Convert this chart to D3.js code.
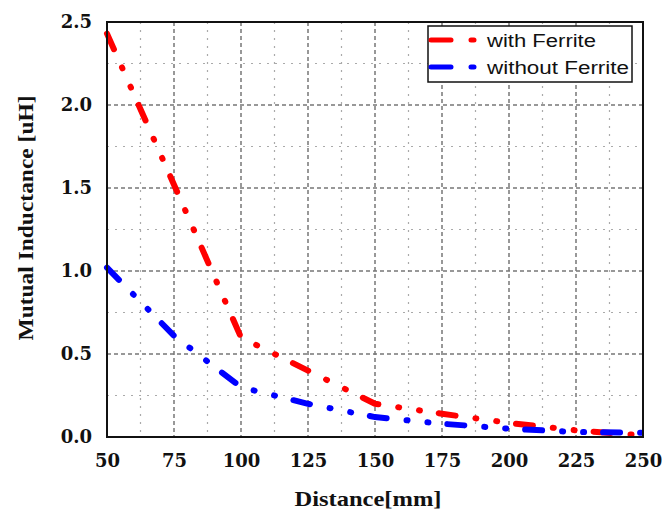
<!DOCTYPE html>
<html>
<head>
<meta charset="utf-8">
<script src="https://cdn.jsdelivr.net/npm/d3@7"></script>
<style>
  body { margin: 0; background: #fff; }
  svg { display: block; }
</style>
</head>
<body>
<script>
// distances in mm and mutual inductance in uH
var distance = [50, 75, 100, 125, 150, 175, 200, 225, 250];
var withFerrite = [2.43, 1.52, 0.6, 0.4, 0.2, 0.14, 0.085, 0.04, 0.01];
var withoutFerrite = [1.02, 0.61, 0.3, 0.2, 0.12, 0.08, 0.05, 0.03, 0.025];
var xTicks = [50, 75, 100, 125, 150, 175, 200, 225, 250];
var yTicks = [0, 0.5, 1.0, 1.5, 2.0, 2.5];
var seriesNames = ['with Ferrite', 'without Ferrite'];
var seriesColors = ['#ff0000', '#0000ff'];

const W = 662, H = 518;
const plotLeft = 107, plotRight = 643, plotTop = 22, plotBottom = 437;

const svg = d3.select('body').append('svg')
    .attr('width', W)
    .attr('height', H);

var x = d3.scaleLinear().domain([50, 250]).range([plotLeft, plotRight]);
var y = d3.scaleLinear().domain([0, 2.5]).range([plotBottom, plotTop]);

// minor grid (dotted)
var xMinor = d3.range(62.5, 250, 25);
var yMinor = d3.range(0.25, 2.5, 0.5);
svg.append('g').selectAll('line')
    .data(xMinor)
    .enter().append('line')
    .attr('x1', d => x(d)).attr('x2', d => x(d))
    .attr('y1', plotTop).attr('y2', plotBottom)
    .attr('stroke', '#aaa').attr('stroke-width', 1.2)
    .attr('stroke-dasharray', '2,6');
svg.append('g').selectAll('line')
    .data(yMinor)
    .enter().append('line')
    .attr('x1', plotLeft).attr('x2', plotRight)
    .attr('y1', d => y(d)).attr('y2', d => y(d))
    .attr('stroke', '#aaa').attr('stroke-width', 1.2)
    .attr('stroke-dasharray', '2,6');

// major grid (dashed)
svg.append('g').selectAll('line')
    .data(xTicks.slice(1, -1))
    .enter().append('line')
    .attr('x1', d => x(d)).attr('x2', d => x(d))
    .attr('y1', plotTop).attr('y2', plotBottom)
    .attr('stroke', '#777').attr('stroke-width', 1.5)
    .attr('stroke-dasharray', '4,3');
svg.append('g').selectAll('line')
    .data(yTicks.slice(1, -1))
    .enter().append('line')
    .attr('x1', plotLeft).attr('x2', plotRight)
    .attr('y1', d => y(d)).attr('y2', d => y(d))
    .attr('stroke', '#777').attr('stroke-width', 1.5)
    .attr('stroke-dasharray', '4,3');

// curves
var line = d3.line()
    .x((d, i) => x(distance[i]))
    .y(d => y(d));

[withFerrite, withoutFerrite].forEach(function(vals, k) {
    svg.append('path')
        .datum(vals)
        .attr('d', line)
        .attr('fill', 'none')
        .attr('stroke', seriesColors[k])
        .attr('stroke-width', 6)
        .attr('stroke-linecap', 'round')
        .attr('stroke-dasharray', '17,20,1,20,1,19');
});

// frame
svg.append('rect')
    .attr('x', plotLeft).attr('y', plotTop)
    .attr('width', plotRight - plotLeft).attr('height', plotBottom - plotTop)
    .attr('fill', 'none')
    .attr('stroke', '#111').attr('stroke-width', 2);

// axes
var xAxis = svg.append('g')
    .attr('transform', 'translate(0,' + plotBottom + ')')
    .call(d3.axisBottom(x).tickValues(xTicks).tickSize(0).tickPadding(17).tickFormat(d3.format('d')));
var yAxis = svg.append('g')
    .attr('transform', 'translate(' + plotLeft + ',0)')
    .call(d3.axisLeft(y).tickValues(yTicks).tickSize(0).tickPadding(15).tickFormat(d3.format('.1f')));

[xAxis, yAxis].forEach(function(a) {
    a.select('.domain').remove();
    a.selectAll('text')
        .attr('font-family', 'DejaVu Serif, serif')
        .attr('font-weight', 'bold')
        .attr('font-size', 18)
        .attr('fill', '#111');
});

// axis titles
svg.append('text')
    .attr('x', 368).attr('y', 506)
    .attr('text-anchor', 'middle')
    .attr('font-family', 'Liberation Serif, Times New Roman, serif')
    .attr('font-weight', 'bold')
    .attr('font-size', 21)
    .attr('textLength', 147)
    .attr('lengthAdjust', 'spacingAndGlyphs')
    .attr('fill', '#111')
    .text('Distance[mm]');

svg.append('text')
    .attr('transform', 'translate(33,218) rotate(-90)')
    .attr('text-anchor', 'middle')
    .attr('font-family', 'Liberation Serif, Times New Roman, serif')
    .attr('font-weight', 'bold')
    .attr('font-size', 21)
    .attr('textLength', 245)
    .attr('lengthAdjust', 'spacingAndGlyphs')
    .attr('fill', '#111')
    .text('Mutual Inductance [uH]');

// legend
var legend = svg.append('g');
legend.append('rect')
    .attr('x', 428).attr('y', 26)
    .attr('width', 204).attr('height', 56)
    .attr('fill', '#fff')
    .attr('stroke', '#111').attr('stroke-width', 1.5);

var textLens = [109, 142];
seriesNames.forEach(function(name, k) {
    var ly = 40 + k * 27;
    legend.append('line')
        .attr('x1', 431).attr('x2', 477)
        .attr('y1', ly).attr('y2', ly)
        .attr('stroke', seriesColors[k])
        .attr('stroke-width', 5)
        .attr('stroke-linecap', 'round')
        .attr('stroke-dasharray', '20,20,3,40');
    legend.append('text')
        .attr('x', 487).attr('y', ly + 7)
        .attr('font-family', 'Liberation Sans, Arial, sans-serif')
        .attr('font-size', 18)
        .attr('textLength', textLens[k])
        .attr('lengthAdjust', 'spacingAndGlyphs')
        .attr('fill', '#111')
        .text(name);
});
</script>
</body>
</html>
